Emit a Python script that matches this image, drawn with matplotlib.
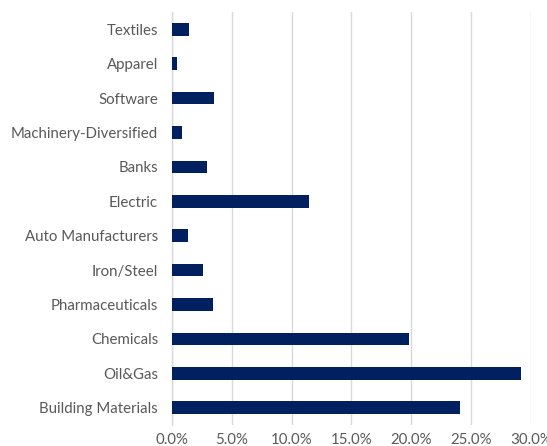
import matplotlib
matplotlib.use("Agg")
import matplotlib.pyplot as plt
from matplotlib.ticker import FuncFormatter

categories = ["Textiles", "Apparel", "Software", "Machinery-Diversified", "Banks",
              "Electric", "Auto Manufacturers", "Iron/Steel", "Pharmaceuticals",
              "Chemicals", "Oil&Gas", "Building Materials"]
values = [1.45, 0.44, 3.49, 0.84, 2.89, 11.46, 1.34, 2.62, 3.40, 19.85, 29.15, 24.05]
xticks = [0, 5, 10, 15, 20, 25, 30]

plt.rcParams['font.family'] = ['Lato', 'DejaVu Sans']
fig = plt.figure(figsize=(5.47, 4.46), dpi=100)
ax = fig.add_axes([172/547, 21/446, (530.7-172)/547, (434-21)/446])

ypos = list(range(len(categories)))[::-1]
ax.barh(ypos, values, height=0.37, color="#002060", zorder=3)
ax.set_yticks(ypos)
ax.set_yticklabels(categories, fontsize=10.8, color="#595959")
ax.set_ylim(-0.5, len(categories) - 0.5)
ax.set_xlim(0, 30)
ax.set_xticks(xticks)
ax.xaxis.set_major_formatter(FuncFormatter(lambda v, p: f"{v:.1f}%"))
ax.tick_params(axis='x', labelsize=10.8, labelcolor="#595959", length=0, pad=6)
ax.tick_params(axis='y', length=0, pad=10)
ax.grid(axis='x', color="#d9d9d9", linewidth=1, zorder=0)
for s in ["top", "right", "bottom"]:
    ax.spines[s].set_visible(False)
ax.spines["left"].set_color("#d9d9d9")
ax.spines["left"].set_linewidth(1)
fig.savefig("out.png", dpi=100)
